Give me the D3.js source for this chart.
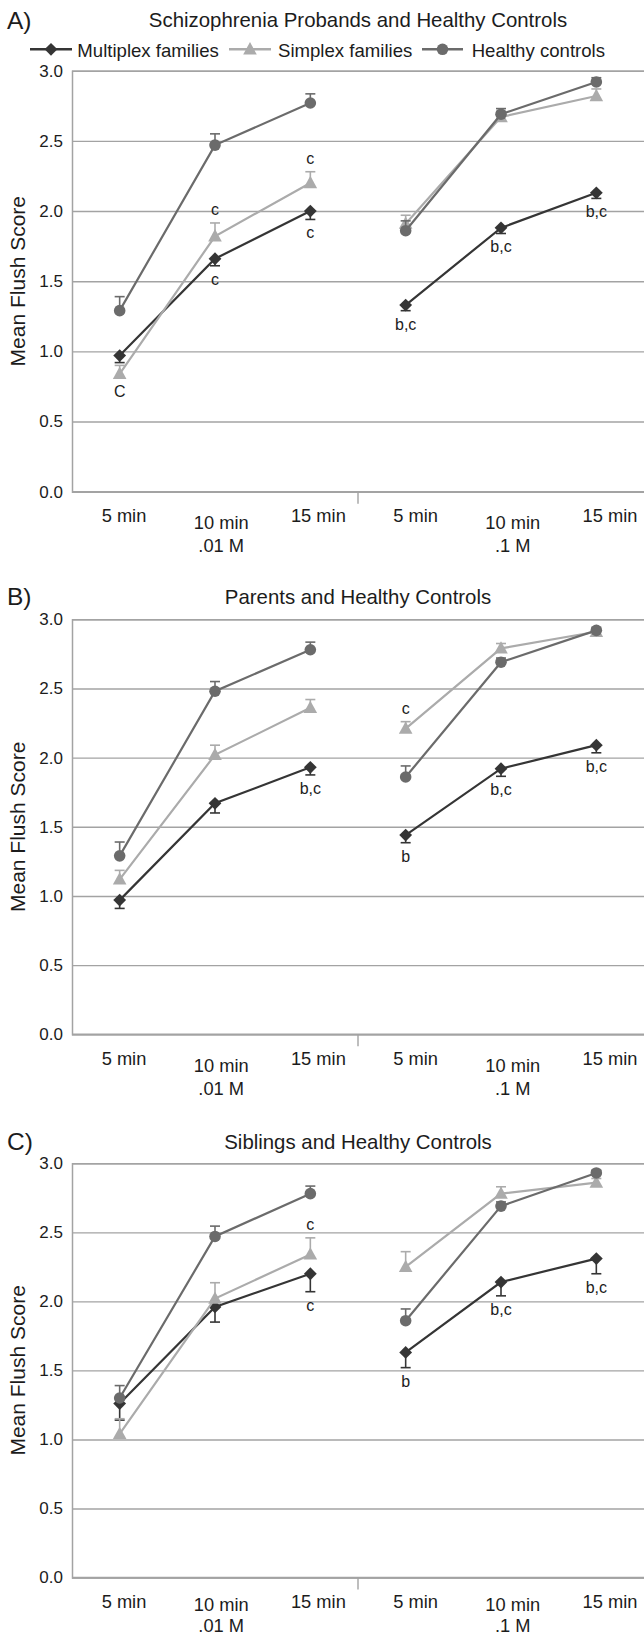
<!DOCTYPE html>
<html><head><meta charset="utf-8">
<script src="https://cdn.jsdelivr.net/npm/d3@7"></script>
<style>
body{margin:0;background:#fff}
svg{display:block}
text{font-family:"Liberation Sans",Arial,Helvetica,sans-serif;fill:#1c1c1c}
</style>
</head><body>
<svg id="chart" width="644" height="1636"></svg>
<script>
// ---------- data ----------
const timeLabels = ["5 min","10 min","15 min","5 min","10 min","15 min"];
const concLabels = ["", ".01 M", "", "", ".1 M", ""];
const seriesNames = ["Multiplex families","Simplex families","Healthy controls"];
const panelLetters = ["A)","B)","C)"];
const panelTitles = ["Schizophrenia Probands and Healthy Controls","Parents and Healthy Controls","Siblings and Healthy Controls"];
const yTicks = [0,0.5,1.0,1.5,2.0,2.5,3.0];
const yAxisTitle = "Mean Flush Score";

// Panel A: probands
const probandsMultiplex = [0.97,1.66,2.00,1.33,1.88,2.13];
const probandsSimplex   = [0.84,1.82,2.20,1.91,2.67,2.82];
const probandsControls  = [1.29,2.47,2.77,1.86,2.69,2.92];
const probandsMultiplexErr = [0.05,0.05,0.06,0.04,0.04,0.04];
const probandsSimplexErr   = [0.06,0.095,0.08,0.06,0.04,0.05];
const probandsControlsErr  = [0.10,0.08,0.065,0.07,0.04,0.03];
const probandsNotes = [[1,0,"C","below"],[1,1,"c","above"],[1,2,"c","above"],[0,1,"c","below"],[0,2,"c","below"],[0,3,"b,c","below"],[0,4,"b,c","below"],[0,5,"b,c","below"]];

// Panel B: parents
const parentsMultiplex = [0.97,1.67,1.93,1.44,1.92,2.09];
const parentsSimplex   = [1.12,2.02,2.36,2.21,2.79,2.91];
const parentsControls  = [1.29,2.48,2.78,1.86,2.69,2.92];
const parentsMultiplexErr = [0.06,0.07,0.055,0.055,0.055,0.055];
const parentsSimplexErr   = [0.065,0.07,0.06,0.05,0.035,0.02];
const parentsControlsErr  = [0.10,0.07,0.055,0.08,0.03,0.02];
const parentsNotes = [[0,2,"b,c","below"],[1,3,"c","above"],[0,3,"b","below"],[0,4,"b,c","below"],[0,5,"b,c","below"]];

// Panel C: siblings
const siblingsMultiplex = [1.26,1.96,2.20,1.63,2.14,2.31];
const siblingsSimplex   = [1.04,2.02,2.34,2.25,2.78,2.86];
const siblingsControls  = [1.30,2.47,2.78,1.86,2.69,2.93];
const siblingsMultiplexErr = [0.12,0.11,0.13,0.11,0.10,0.11];
const siblingsSimplexErr   = [0.11,0.115,0.12,0.11,0.05,0.03];
const siblingsControlsErr  = [0.09,0.075,0.055,0.085,0.03,0.02];
const siblingsNotes = [[1,2,"c","above"],[0,2,"c","below"],[0,3,"b","below"],[0,4,"b,c","below"],[0,5,"b,c","below"]];

// ---------- style / layout ----------
const colors = ["#353535","#ababab","#6b6b6b"];
const errDir = [-1, 1, 1];           // multiplex bars drawn below, others above
const gridColor = "#a3a3a3";
const left = 72, right = 644, H = 1636;
const layout = [
  {top:70.7,  bottom:491.7,  titleY:27.3,  letterY:28.5},
  {top:619.3, bottom:1034.3, titleY:604,   letterY:605},
  {top:1163.3,bottom:1577.5, titleY:1148.5,letterY:1150}
];
const panels = [
  {values:[probandsMultiplex,probandsSimplex,probandsControls], errs:[probandsMultiplexErr,probandsSimplexErr,probandsControlsErr], notes:probandsNotes},
  {values:[parentsMultiplex,parentsSimplex,parentsControls], errs:[parentsMultiplexErr,parentsSimplexErr,parentsControlsErr], notes:parentsNotes},
  {values:[siblingsMultiplex,siblingsSimplex,siblingsControls], errs:[siblingsMultiplexErr,siblingsSimplexErr,siblingsControlsErr], notes:siblingsNotes}
];

const svg = d3.select("#chart");
const x = d3.scaleBand().domain(d3.range(timeLabels.length)).range([left,right]).padding(0);
const xc = i => x(i) + x.bandwidth()/2;
const xLab = d3.scalePoint().domain(d3.range(timeLabels.length)).range([124,610]);
const segments = [[0,1,2],[3,4,5]];

function marker(sel, s){
  if(s===0){
    sel.append("path").attr("d","M0,-6.4L6.4,0L0,6.4L-6.4,0Z");
  } else if(s===1){
    sel.append("path").attr("d","M0,-7.2L6.8,5.2L-6.8,5.2Z");
  } else {
    sel.append("circle").attr("r",5.8);
  }
}

panels.forEach((p, pi) => {
  const L = layout[pi];
  const g = svg.append("g");
  const y = d3.scaleLinear().domain([0,3]).range([L.bottom, L.top]);

  // panel letter & title
  g.append("text").attr("x",7).attr("y",L.letterY).attr("font-size",24.5).text(panelLetters[pi]);
  g.append("text").attr("x",(left+right)/2).attr("y",L.titleY).attr("text-anchor","middle")
    .attr("font-size",20.4).text(panelTitles[pi]);

  // y axis with gridlines
  const ya = g.append("g").attr("transform",`translate(${left},0)`)
    .call(d3.axisLeft(y).tickValues(yTicks).tickFormat(d3.format(".1f")).tickSize(-(right-left)).tickPadding(9));
  ya.select(".domain").attr("stroke",gridColor).attr("stroke-width",1.5);
  ya.selectAll(".tick line").attr("stroke",gridColor).attr("stroke-width",1.4);
  ya.selectAll(".tick text").attr("font-size",17).attr("fill","#1c1c1c")
    .style("font-family",'"Liberation Sans",Arial,sans-serif');

  // y axis title
  g.append("text").attr("transform",`translate(25,${(L.top+L.bottom)/2}) rotate(-90)`)
    .attr("text-anchor","middle").attr("font-size",21).text(yAxisTitle);

  // x axis line and divider tick
  g.append("line").attr("x1",left).attr("x2",right).attr("y1",L.bottom).attr("y2",L.bottom)
    .attr("stroke",gridColor).attr("stroke-width",1.5);
  const divX = x(3);
  g.append("line").attr("x1",divX).attr("x2",divX).attr("y1",L.bottom).attr("y2",L.bottom+12)
    .attr("stroke",gridColor).attr("stroke-width",1.4);

  // x labels
  timeLabels.forEach((t,i) => {
    const hasConc = concLabels[i] !== "";
    const y2 = Math.min(L.bottom + 60.7, H - 4);
    const y1 = Math.min(L.bottom + (hasConc?37.3:34), y2 - 21);
    g.append("text").attr("x",xLab(i)).attr("y",hasConc ? y1 : Math.min(L.bottom+34, y1 - 3.3))
      .attr("text-anchor","middle").attr("font-size",18.3).text(t);
    if(hasConc){
      g.append("text").attr("x",xLab(i)).attr("y",y2)
        .attr("text-anchor","middle").attr("font-size",18.3).text(concLabels[i]);
    }
  });

  // series
  p.values.forEach((vals, s) => {
    const sg = g.append("g");
    const col = colors[s];
    segments.forEach(seg => {
      sg.append("path").attr("d", d3.line().x(i => xc(i)).y(i => y(vals[i]))(seg))
        .attr("fill","none").attr("stroke",col).attr("stroke-width",2.2);
    });
    // error bars
    vals.forEach((v,i) => {
      const ye = y(v + errDir[s]*p.errs[s][i]);
      sg.append("line").attr("x1",xc(i)).attr("x2",xc(i)).attr("y1",y(v)).attr("y2",ye)
        .attr("stroke",col).attr("stroke-width",1.6);
      sg.append("line").attr("x1",xc(i)-5).attr("x2",xc(i)+5).attr("y1",ye).attr("y2",ye)
        .attr("stroke",col).attr("stroke-width",1.6);
    });
    // markers
    vals.forEach((v,i) => {
      const m = sg.append("g").attr("transform",`translate(${xc(i)},${y(v)})`).attr("fill",col);
      marker(m, s);
    });
  });

  // significance notes
  p.notes.forEach(([s,i,txt,side]) => {
    const v = p.values[s][i], e = p.errs[s][i];
    let ty;
    if(side === "above"){
      const top = errDir[s] > 0 ? y(v+e) : y(v);
      ty = Math.min(top - 8, y(v) - 14);
    } else {
      const bot = errDir[s] < 0 ? y(v-e) : y(v);
      ty = Math.max(bot + 19, y(v) + 23);
    }
    g.append("text").attr("x",xc(i)).attr("y",ty).attr("text-anchor","middle")
      .attr("font-size",16).text(txt);
  });
});

// legend (panel A)
const legend = svg.append("g");
const legendItems = [{x0:30,x1:72,tx:77.3},{x0:229,x1:271,tx:278},{x0:422,x1:463,tx:471.7}];
legendItems.forEach((it,s) => {
  legend.append("line").attr("x1",it.x0).attr("x2",it.x1).attr("y1",49.3).attr("y2",49.3)
    .attr("stroke",colors[s]).attr("stroke-width",2.4);
  const m = legend.append("g").attr("transform",`translate(${(it.x0+it.x1)/2},49.3)`).attr("fill",colors[s]);
  marker(m, s);
  legend.append("text").attr("x",it.tx).attr("y",56.7).attr("font-size",18.6).text(seriesNames[s]);
});
</script>
</body></html>
